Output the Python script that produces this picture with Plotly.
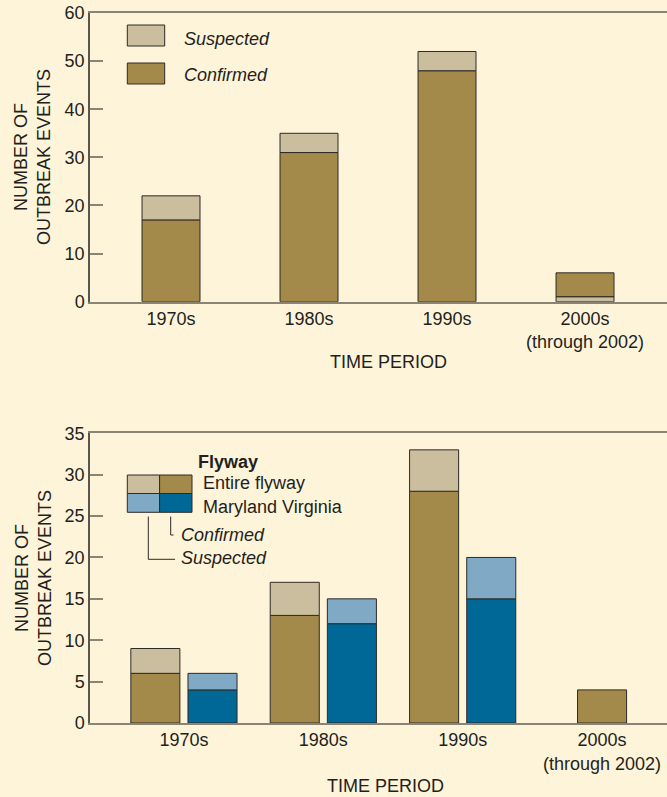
import plotly.graph_objects as go

# ---- data ----
periods = ["1970s", "1980s", "1990s", "2000s"]
period_labels = ["1970s", "1980s", "1990s", "2000s<br>(through 2002)"]

# all outbreak events (upper panel)
all_confirmed = [17, 31, 48, 5]
all_suspected = [5, 4, 4, 1]
suspected_below = [False, False, False, True]

# by flyway (lower panel)
flyway_confirmed = [6, 13, 28, 4]
flyway_suspected = [3, 4, 5, None]
mdva_confirmed = [4, 12, 15, None]
mdva_suspected = [2, 3, 5, None]

# ---- styling ----
BG = "#fef4da"
TAN_LIGHT = "#cbbe9f"
TAN = "#a3894a"
BLUE_LIGHT = "#7fa9c4"
BLUE = "#006896"
EDGE = "#2e2b26"
AXIS = "#8a8474"
TEXT = "#231f20"
FONT = "Liberation Sans, Arial, Helvetica, sans-serif"
FS = 18

# pixel frame of the plotting area
L, R, T, B = 90, 667, 13, 723


def px(x):
    return (x - L) / (R - L)


def py(y):
    return (B - y) / (B - T)


fig = go.Figure()

# upper panel: stacked confirmed / suspected
conf_base = [s if below else 0 for s, below in zip(all_suspected, suspected_below)]
susp_base = [0 if below else c for c, below in zip(all_confirmed, suspected_below)]
top_w = 0.42
fig.add_trace(go.Bar(x=periods, y=all_confirmed, base=conf_base, width=top_w,
                     marker=dict(color=TAN, line=dict(color=EDGE, width=1)),
                     xaxis="x", yaxis="y", showlegend=False))
fig.add_trace(go.Bar(x=periods, y=all_suspected, base=susp_base, width=top_w,
                     marker=dict(color=TAN_LIGHT, line=dict(color=EDGE, width=1)),
                     xaxis="x", yaxis="y", showlegend=False))

# lower panel: grouped bars, entire flyway next to Maryland/Virginia
bw = 0.352
gap = 0.029
fly_offset = [-(bw + gap) if m is not None else -bw / 2 for m in mdva_confirmed]
md_offset = [gap] * len(periods)
fly_susp_base = [c if s is not None else None for c, s in zip(flyway_confirmed, flyway_suspected)]
md_susp_base = [c if s is not None else None for c, s in zip(mdva_confirmed, mdva_suspected)]

fig.add_trace(go.Bar(x=periods, y=flyway_confirmed, base=[0] * 4, width=bw, offset=fly_offset,
                     marker=dict(color=TAN, line=dict(color=EDGE, width=1)),
                     xaxis="x2", yaxis="y2", showlegend=False))
fig.add_trace(go.Bar(x=periods, y=flyway_suspected, base=fly_susp_base, width=bw, offset=fly_offset,
                     marker=dict(color=TAN_LIGHT, line=dict(color=EDGE, width=1)),
                     xaxis="x2", yaxis="y2", showlegend=False))
fig.add_trace(go.Bar(x=periods, y=mdva_confirmed, base=[0] * 4, width=bw, offset=md_offset,
                     marker=dict(color=BLUE, line=dict(color=EDGE, width=1)),
                     xaxis="x2", yaxis="y2", showlegend=False))
fig.add_trace(go.Bar(x=periods, y=mdva_suspected, base=md_susp_base, width=bw, offset=md_offset,
                     marker=dict(color=BLUE_LIGHT, line=dict(color=EDGE, width=1)),
                     xaxis="x2", yaxis="y2", showlegend=False))

top_dom = [py(301.7), 1]
bot_dom = [0, py(433.3)]

xcommon = dict(type="category", showline=True, linecolor=AXIS, linewidth=1.5,
               mirror=True, ticks="", showgrid=False, zeroline=False,
               tickfont=dict(family=FONT, size=FS, color=TEXT),
               tickvals=periods, ticktext=period_labels)
ycommon = dict(showline=True, linecolor="#5a564c", linewidth=1.5, ticks="inside",
               ticklen=13, tickcolor=AXIS, tickwidth=1.5, showgrid=False,
               zeroline=False, tickfont=dict(family=FONT, size=FS, color=TEXT))
yright = dict(showline=False, ticks="inside", ticklen=9, tickcolor=AXIS,
              tickwidth=1.5, showgrid=False, zeroline=False, showticklabels=False,
              side="right")

fig.update_layout(
    width=667, height=797,
    margin=dict(l=L, r=667 - R, t=T, b=797 - B),
    paper_bgcolor=BG, plot_bgcolor=BG,
    barmode="overlay",
    font=dict(family=FONT, size=FS, color=TEXT),
    xaxis=dict(**xcommon, domain=[0, 1], anchor="y", range=[-0.587, 3.594]),
    yaxis=dict(**ycommon, domain=top_dom, anchor="x", range=[0, 60],
               tickvals=[0, 10, 20, 30, 40, 50, 60]),
    xaxis2=dict(**xcommon, domain=[0, 1], anchor="y2", range=[-0.674, 3.466]),
    yaxis2=dict(**ycommon, domain=bot_dom, anchor="x2", range=[0, 35],
                tickvals=[0, 5, 10, 15, 20, 25, 30, 35]),
    yaxis3=dict(**yright, overlaying="y", anchor="x", range=[0, 60],
                tickvals=[10, 20, 30, 40, 50]),
    yaxis4=dict(**yright, overlaying="y2", anchor="x2", range=[0, 35],
                tickvals=[5, 10, 15, 20, 25, 30]),
)

ann = []
shapes = []

# axis titles
for yc in (157, 578):
    ann.append(dict(text="NUMBER OF<br>OUTBREAK EVENTS", textangle=-90,
                    x=px(33), y=py(yc), xref="paper", yref="paper",
                    xanchor="center", yanchor="middle", showarrow=False,
                    font=dict(family=FONT, size=FS, color=TEXT)))
for xc, yc in ((388, 362), (385, 786)):
    ann.append(dict(text="TIME PERIOD", x=px(xc), y=py(yc), xref="paper",
                    yref="paper", xanchor="center", yanchor="middle",
                    showarrow=False, font=dict(family=FONT, size=FS, color=TEXT)))

# upper legend
for (y0, y1), col, label, yc in (((25, 46), TAN_LIGHT, "Suspected", 39),
                                 ((63, 84), TAN, "Confirmed", 75)):
    shapes.append(dict(type="rect", xref="paper", yref="paper",
                       x0=px(127.3), x1=px(164.7), y0=py(y1), y1=py(y0),
                       fillcolor=col, line=dict(color=EDGE, width=1)))
    ann.append(dict(text="<i>%s</i>" % label, x=px(182), y=py(yc), xref="paper",
                    yref="paper", xanchor="left", yanchor="middle",
                    showarrow=False, font=dict(family=FONT, size=FS, color=TEXT)))

# lower legend: 2x2 key
cells = [((127.3, 159.6), (475, 493.5), TAN_LIGHT),
         ((159.6, 192), (475, 493.5), TAN),
         ((127.3, 159.6), (493.5, 512.3), BLUE_LIGHT),
         ((159.6, 192), (493.5, 512.3), BLUE)]
for (x0, x1), (y0, y1), col in cells:
    shapes.append(dict(type="rect", xref="paper", yref="paper",
                       x0=px(x0), x1=px(x1), y0=py(y1), y1=py(y0),
                       fillcolor=col, line=dict(color=EDGE, width=1)))
# leader lines
shapes.append(dict(type="path", xref="paper", yref="paper",
                   path="M %f %f L %f %f L %f %f" % (px(148.3), py(516.5), px(148.3), py(559.3), px(175), py(559.3)),
                   line=dict(color=EDGE, width=1)))
shapes.append(dict(type="path", xref="paper", yref="paper",
                   path="M %f %f L %f %f L %f %f" % (px(170.7), py(516.5), px(170.7), py(535), px(173.5), py(535)),
                   line=dict(color=EDGE, width=1)))

for text, x, y in (("<b>Flyway</b>", 196, 462),
                   ("Entire flyway", 201, 483.3),
                   ("Maryland Virginia", 201, 507.3),
                   ("<i>Confirmed</i>", 179.3, 535),
                   ("<i>Suspected</i>", 179.3, 558.3)):
    ann.append(dict(text=text, x=px(x), y=py(y), xref="paper", yref="paper",
                    xanchor="left", yanchor="middle", showarrow=False,
                    font=dict(family=FONT, size=FS, color=TEXT)))

fig.update_layout(annotations=ann, shapes=shapes)

fig.write_html("out.html")
